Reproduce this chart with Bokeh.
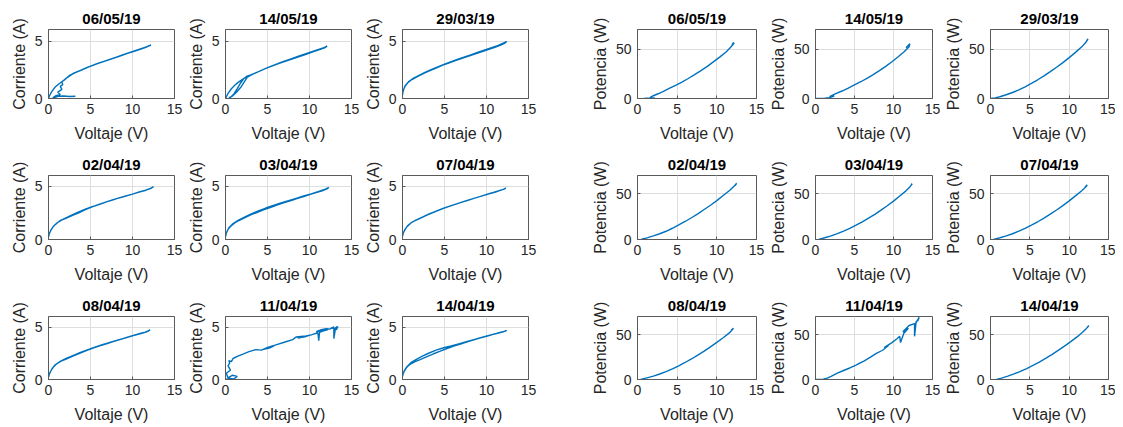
from bokeh.plotting import figure
from bokeh.layouts import row, column
from bokeh.models import Range1d, FixedTicker
from bokeh.embed import file_html
from bokeh.resources import INLINE

# ---------------- data ----------------
dates = ["06/05/19", "14/05/19", "29/03/19",
         "02/04/19", "03/04/19", "07/04/19",
         "08/04/19", "11/04/19", "14/04/19"]

x_ticks = [0, 5, 10, 15]
i_ticks = [0, 5]
p_ticks = [0, 50]

# Corriente vs Voltaje
V_0605 = [3.2, 2.5, 1.8, 1.2, 0.8, 0.5, 0.9, 1.4, 1.1, 1.6, 1.4, 1.7, 1.6, 2.0, 2.4, 3.0, 3.8, 4.6, 5.4, 6.2, 7.0, 7.8, 8.6, 9.4, 10.2, 11.0, 11.6, 12.0, 11.7, 12.2, 11.9, 11.2, 10.4, 9.6, 8.8, 8.0, 7.2, 6.4, 5.6, 4.8, 4.0, 3.2, 2.5, 1.9, 1.3, 0.8, 0.4, 0.1, 0.0]
I_0605 = [0.2, 0.18, 0.22, 0.2, 0.1, 0.05, 0.25, 0.35, 0.55, 0.8, 1.05, 1.2, 1.45, 1.7, 1.9, 2.2, 2.45, 2.7, 2.92, 3.12, 3.32, 3.52, 3.72, 3.92, 4.1, 4.3, 4.45, 4.6, 4.5, 4.65, 4.55, 4.38, 4.18, 3.98, 3.78, 3.58, 3.38, 3.18, 2.98, 2.75, 2.5, 2.25, 2.0, 1.62, 1.3, 1.0, 0.62, 0.22, 0.0]

V_1405 = [0.0, 0.3, 0.7, 1.1, 1.5, 1.9, 2.3, 2.7, 2.2, 1.8, 1.4, 1.0, 0.6, 0.4, 0.8, 1.3, 1.8, 2.2, 2.6, 3.2, 4.0, 4.8, 5.6, 6.4, 7.2, 8.0, 8.8, 9.6, 10.4, 11.2, 11.8, 12.1, 11.7, 11.0, 10.2, 9.4, 8.6, 7.8, 7.0, 6.2, 5.4, 4.6, 3.8, 3.0, 2.4]
I_1405 = [0.0, 0.45, 0.85, 1.15, 1.4, 1.6, 1.8, 1.95, 1.75, 1.35, 0.85, 0.4, 0.1, 0.05, 0.2, 0.55, 0.95, 1.4, 1.85, 2.1, 2.35, 2.62, 2.85, 3.05, 3.25, 3.45, 3.65, 3.85, 4.05, 4.25, 4.4, 4.55, 4.42, 4.25, 4.05, 3.85, 3.65, 3.45, 3.25, 3.02, 2.8, 2.55, 2.3, 2.05, 1.9]

V_2903 = [0.0, 0.05, 0.15, 0.3, 0.6, 1.0, 1.5, 2.0, 2.6, 3.2, 4.0, 4.8, 5.5, 6.3, 7.0, 7.8, 8.6, 9.4, 10.2, 11.0, 11.7, 12.2, 12.4, 12.1, 11.4, 10.6, 9.8, 9.0, 8.2, 7.4, 6.6, 5.8, 5.0, 4.2, 3.4, 2.6, 1.8, 1.2, 0.7, 0.3, 0.1]
I_2903 = [0.3, 0.55, 0.8, 1.05, 1.35, 1.6, 1.8, 1.98, 2.2, 2.4, 2.65, 2.9, 3.08, 3.3, 3.48, 3.66, 3.86, 4.05, 4.25, 4.45, 4.65, 4.82, 4.95, 4.85, 4.62, 4.42, 4.22, 4.02, 3.82, 3.62, 3.42, 3.2, 2.98, 2.75, 2.5, 2.25, 1.95, 1.72, 1.45, 1.1, 0.7]

V_0204 = [0.0, 0.1, 0.3, 0.6, 1.0, 1.4, 2.0, 2.8, 3.6, 4.4, 5.2, 6.0, 6.8, 7.6, 8.4, 9.2, 10.0, 10.8, 11.6, 12.2, 12.5, 12.2, 11.5, 10.6, 9.7, 8.8, 7.9, 7.0, 6.1, 5.2, 4.3, 3.4, 2.5, 1.7, 1.1, 0.6, 0.2]
I_0204 = [0.2, 0.55, 0.9, 1.25, 1.55, 1.78, 1.95, 2.25, 2.5, 2.8, 3.05, 3.28, 3.5, 3.7, 3.9, 4.08, 4.25, 4.45, 4.62, 4.8, 4.95, 4.82, 4.6, 4.4, 4.18, 3.98, 3.78, 3.55, 3.3, 3.08, 2.82, 2.52, 2.18, 1.88, 1.6, 1.25, 0.75]

V_0304 = [0.0, 0.1, 0.3, 0.7, 1.1, 1.6, 2.2, 3.0, 3.8, 4.6, 5.4, 6.2, 7.0, 7.8, 8.6, 9.4, 10.2, 11.0, 11.7, 12.1, 12.3, 11.9, 11.1, 10.2, 9.3, 8.4, 7.5, 6.6, 5.7, 4.8, 3.9, 3.0, 2.2, 1.5, 0.9, 0.4, 0.1]
I_0304 = [0.25, 0.6, 0.95, 1.3, 1.55, 1.78, 2.0, 2.3, 2.55, 2.8, 3.02, 3.25, 3.45, 3.65, 3.85, 4.05, 4.25, 4.45, 4.62, 4.75, 4.88, 4.72, 4.5, 4.28, 4.08, 3.86, 3.64, 3.42, 3.2, 2.95, 2.68, 2.38, 2.08, 1.8, 1.5, 1.1, 0.6]

V_0704 = [0.0, 0.1, 0.3, 0.6, 1.0, 1.5, 2.1, 2.9, 3.7, 4.5, 5.3, 6.1, 6.9, 7.7, 8.5, 9.3, 10.1, 10.9, 11.6, 12.1, 12.3, 12.0, 11.2, 10.3, 9.4, 8.5, 7.6, 6.7, 5.8, 4.9, 4.0, 3.1, 2.3, 1.6, 1.0, 0.5, 0.15]
I_0704 = [0.3, 0.62, 0.95, 1.28, 1.55, 1.78, 1.98, 2.28, 2.55, 2.8, 3.03, 3.25, 3.46, 3.66, 3.86, 4.05, 4.24, 4.43, 4.6, 4.72, 4.82, 4.7, 4.48, 4.27, 4.06, 3.85, 3.63, 3.41, 3.18, 2.93, 2.66, 2.37, 2.08, 1.82, 1.55, 1.18, 0.72]

V_0804 = [0.0, 0.1, 0.3, 0.6, 1.0, 1.5, 2.1, 2.9, 3.7, 4.5, 5.3, 6.1, 6.9, 7.7, 8.5, 9.3, 10.1, 10.9, 11.5, 11.9, 12.1, 11.7, 11.0, 10.1, 9.2, 8.3, 7.4, 6.5, 5.6, 4.7, 3.8, 2.9, 2.1, 1.4, 0.8, 0.4, 0.1]
I_0804 = [0.2, 0.5, 0.85, 1.2, 1.52, 1.75, 1.95, 2.22, 2.48, 2.75, 2.98, 3.2, 3.4, 3.6, 3.8, 4.0, 4.2, 4.38, 4.5, 4.62, 4.72, 4.55, 4.38, 4.18, 3.97, 3.76, 3.55, 3.33, 3.1, 2.85, 2.58, 2.28, 2.0, 1.72, 1.4, 1.0, 0.55]

V_1104 = [0.0, 0.5, 1.0, 1.4, 0.8, 0.3, 0.1, 0.6, 0.3, 0.5, 0.4, 0.7, 0.9, 1.4, 2.0, 2.8, 3.6, 4.3, 5.0, 5.8, 5.2, 4.4, 5.2, 6.0, 7.0, 8.0, 8.4, 9.6, 9.9, 8.6, 9.6, 10.4, 11.0, 11.1, 11.2, 11.6, 12.2, 11.5, 10.8, 11.4, 12.0, 12.4, 12.9, 12.9, 13.1, 13.3, 13.0, 12.6, 13.2, 13.4]
I_1104 = [0.0, 0.1, 0.05, 0.3, 0.4, 0.15, 0.6, 0.9, 1.3, 1.55, 1.8, 1.7, 2.0, 2.2, 2.4, 2.65, 2.85, 2.8, 3.05, 3.2, 3.0, 2.85, 3.1, 3.3, 3.55, 3.8, 4.05, 4.15, 4.2, 3.95, 4.1, 4.3, 4.45, 3.7, 4.5, 4.6, 4.75, 4.65, 4.55, 4.75, 4.85, 4.8, 5.0, 3.9, 4.9, 5.05, 4.8, 4.95, 4.75, 5.05]

V_1404 = [0.0, 0.1, 0.3, 0.6, 1.0, 1.5, 2.1, 2.9, 3.7, 4.5, 5.3, 6.1, 6.9, 7.7, 8.5, 9.3, 10.1, 10.9, 11.6, 12.1, 12.4, 12.0, 11.2, 10.3, 9.4, 8.5, 7.6, 6.7, 5.8, 4.9, 4.0, 3.1, 2.3, 1.6, 1.0, 0.5, 0.15]
I_1404 = [0.3, 0.6, 0.92, 1.25, 1.5, 1.7, 1.9, 2.18, 2.45, 2.7, 2.95, 3.18, 3.38, 3.58, 3.78, 3.96, 4.14, 4.32, 4.48, 4.58, 4.66, 4.55, 4.38, 4.2, 4.0, 3.8, 3.6, 3.4, 3.2, 3.02, 2.8, 2.5, 2.2, 1.9, 1.6, 1.2, 0.75]

# Potencia vs Voltaje
VP_0605 = [0.8, 1.2, 1.8, 2.2, 1.6, 2.0, 2.6, 3.2, 4.0, 4.8, 5.6, 6.4, 7.2, 8.0, 8.8, 9.6, 10.4, 11.2, 11.8, 12.2, 11.9, 12.1]
P_0605 = [0.0, 0.3, 0.6, 0.4, 1.2, 2.8, 4.8, 7.0, 10.2, 13.4, 16.7, 20.3, 24.2, 28.3, 32.6, 37.4, 42.2, 47.5, 52.5, 56.5, 54.0, 57.0]

VP_1405 = [0.0, 0.6, 1.2, 1.8, 2.4, 1.8, 2.6, 3.4, 4.2, 5.0, 5.8, 6.6, 7.4, 8.2, 9.0, 9.8, 10.6, 11.4, 12.0, 12.1, 11.6]
P_1405 = [0.0, 0.1, 0.3, 0.9, 2.5, 2.0, 4.9, 7.6, 10.6, 13.8, 17.0, 20.4, 24.2, 28.3, 32.6, 37.3, 42.4, 47.7, 52.6, 55.5, 51.5]

VP_2903 = [0.0, 0.6, 1.2, 2.0, 2.8, 3.6, 4.4, 5.2, 6.0, 6.8, 7.6, 8.4, 9.2, 10.0, 10.8, 11.6, 12.1, 12.4, 12.2]
P_2903 = [0.0, 0.6, 1.8, 3.8, 6.1, 8.8, 11.9, 15.3, 19.0, 22.9, 27.2, 31.7, 36.4, 41.5, 46.8, 52.4, 56.8, 60.5, 58.5]

VP_0204 = [0.5, 1.2, 2.0, 2.8, 3.6, 4.4, 5.2, 6.0, 6.8, 7.6, 8.4, 9.2, 10.0, 10.8, 11.6, 12.2, 12.5, 12.3]
P_0204 = [0.3, 1.8, 3.9, 6.3, 9.0, 12.3, 15.9, 19.7, 23.8, 28.1, 32.8, 37.5, 42.5, 48.1, 53.6, 58.6, 61.5, 59.0]

VP_0304 = [0.4, 1.2, 2.0, 2.8, 3.6, 4.4, 5.2, 6.0, 6.8, 7.6, 8.4, 9.2, 10.0, 10.8, 11.6, 12.1, 12.4, 12.2]
P_0304 = [0.2, 1.9, 4.0, 6.4, 9.2, 12.2, 15.6, 19.3, 23.3, 27.5, 32.1, 36.9, 42.0, 47.6, 53.2, 57.5, 61.0, 58.8]

VP_0704 = [0.4, 1.2, 2.0, 2.8, 3.6, 4.4, 5.2, 6.0, 6.8, 7.6, 8.4, 9.2, 10.0, 10.8, 11.6, 12.1, 12.3, 12.0]
P_0704 = [0.2, 1.9, 3.9, 6.3, 9.1, 12.2, 15.6, 19.4, 23.4, 27.7, 32.3, 37.1, 42.2, 47.7, 53.3, 57.3, 59.6, 57.5]

VP_0804 = [0.4, 1.2, 2.0, 2.8, 3.6, 4.4, 5.2, 6.0, 6.8, 7.6, 8.4, 9.2, 10.0, 10.8, 11.5, 11.9, 12.1, 11.8]
P_0804 = [0.2, 1.8, 3.8, 6.1, 8.8, 11.9, 15.2, 18.9, 22.8, 27.0, 31.5, 36.3, 41.2, 46.4, 51.2, 54.8, 57.0, 55.0]

VP_1104 = [0.0, 0.5, 1.0, 1.5, 2.0, 2.8, 3.6, 4.4, 5.2, 6.0, 5.4, 6.2, 7.0, 7.8, 8.6, 9.4, 8.8, 9.8, 10.4, 10.8, 10.9, 11.4, 11.4, 11.9, 11.2, 12.0, 12.7, 12.7, 12.9, 13.2, 12.8, 13.3, 13.1]
P_1104 = [0.0, 0.1, 0.4, 1.5, 3.5, 7.0, 10.0, 12.8, 16.0, 19.5, 17.0, 20.5, 24.5, 29.0, 32.5, 38.0, 35.5, 41.0, 45.0, 48.0, 41.0, 53.0, 52.0, 57.0, 53.0, 60.0, 62.0, 48.0, 64.0, 67.0, 62.0, 69.0, 65.0]

VP_1404 = [0.75, 1.4, 2.2, 3.0, 3.8, 4.6, 5.4, 6.2, 7.0, 7.8, 8.6, 9.4, 10.2, 11.0, 11.7, 12.2, 12.5, 12.3]
P_1404 = [0.0, 1.5, 3.7, 6.2, 9.0, 12.2, 15.6, 19.4, 23.4, 27.7, 32.3, 37.1, 42.1, 47.3, 52.5, 56.8, 59.8, 58.0]

iv_series = [(V_0605, I_0605), (V_1405, I_1405), (V_2903, I_2903),
             (V_0204, I_0204), (V_0304, I_0304), (V_0704, I_0704),
             (V_0804, I_0804), (V_1104, I_1104), (V_1404, I_1404)]
pv_series = [(VP_0605, P_0605), (VP_1405, P_1405), (VP_2903, P_2903),
             (VP_0204, P_0204), (VP_0304, P_0304), (VP_0704, P_0704),
             (VP_0804, P_0804), (VP_1104, P_1104), (VP_1404, P_1404)]

# ---------------- styling / layout ----------------
FONT = "Liberation Sans"
BLUE = "#0072BD"
TXT = "#262626"

# (left border, frame width, right border) per column; page body has no margin
left_cols = [(48, 126, 10), (40, 127, 10), (40, 127, 59)]
right_cols = [(50, 119, 9), (50, 117, 8), (50, 118, 7)]
# (top border, frame height, bottom border) per row
rows_geo = [(29, 69, 53), (21, 67, 53), (21, 66, 46)]


def make_fig(title, xs, ys, ylabel, ymax, yticks, cgeo, rgeo):
    lb, fw, rb = cgeo
    tb, fh, bb = rgeo
    p = figure(width=lb + fw + rb, height=tb + fh + bb,
               x_range=Range1d(0, 15), y_range=Range1d(0, ymax),
               output_backend="svg", toolbar_location=None,
               min_border_left=lb, min_border_right=rb,
               min_border_top=tb, min_border_bottom=bb,
               title=title)
    p.title.text_font = FONT
    p.title.text_font_size = "15px"
    p.title.text_font_style = "bold"
    p.title.text_color = "#000000"
    p.title.align = "center"
    p.title.standoff = 5
    p.outline_line_color = "#5a5a5a"
    p.outline_line_width = 1
    p.background_fill_color = "white"
    p.border_fill_color = "white"
    p.line(xs, ys, line_color=BLUE, line_width=1.4)
    p.xaxis.ticker = FixedTicker(ticks=x_ticks)
    p.yaxis.ticker = FixedTicker(ticks=yticks)
    p.xaxis.axis_label = "Voltaje (V)"
    p.yaxis.axis_label = ylabel
    for ax in (p.xaxis, p.yaxis):
        ax.axis_label_text_font = FONT
        ax.axis_label_text_font_size = "16px"
        ax.axis_label_text_font_style = "normal"
        ax.axis_label_text_color = TXT
        ax.major_label_text_font = FONT
        ax.major_label_text_font_size = "14px"
        ax.major_label_text_color = TXT
        ax.major_tick_in = 3
        ax.major_tick_out = 0
        ax.minor_tick_line_color = None
        ax.axis_line_color = "#5a5a5a"
        ax.major_tick_line_color = "#5a5a5a"
    p.xaxis.major_label_standoff = 5
    p.xaxis.axis_label_standoff = 8
    p.yaxis.major_label_standoff = 6
    p.yaxis.axis_label_standoff = 4
    p.xgrid.grid_line_color = "#dedede"
    p.ygrid.grid_line_color = "#dedede"
    return p


grid_rows = []
for r in range(3):
    figs = []
    for c in range(3):
        k = r * 3 + c
        xs, ys = iv_series[k]
        figs.append(make_fig(dates[k], xs, ys, "Corriente (A)", 6, i_ticks,
                             left_cols[c], rows_geo[r]))
    for c in range(3):
        k = r * 3 + c
        xs, ys = pv_series[k]
        figs.append(make_fig(dates[k], xs, ys, "Potencia (W)", 70, p_ticks,
                             right_cols[c], rows_geo[r]))
    grid_rows.append(row(figs, spacing=0))

layout = column(grid_rows, spacing=0)

open("out.html", "w").write(file_html(layout, INLINE))
